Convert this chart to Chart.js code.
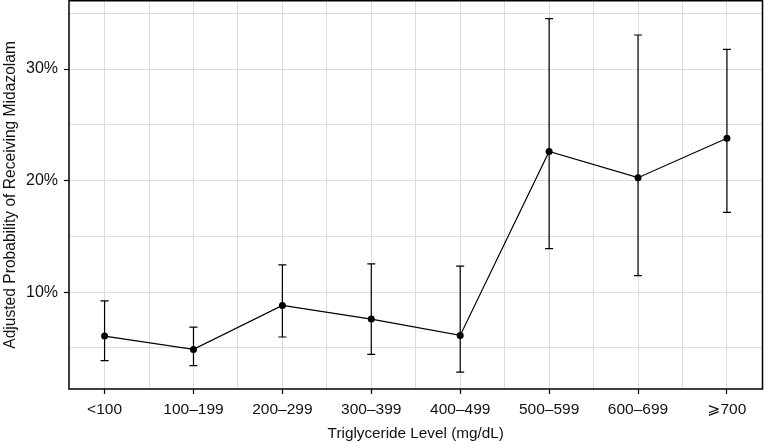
<!DOCTYPE html>
<html>
<head>
<meta charset="utf-8">
<script src="https://cdn.jsdelivr.net/npm/chart.js@4/dist/chart.umd.min.js"></script>
<style>
  html, body { margin: 0; padding: 0; background: #fff; overflow: hidden; }
  #wrap { width: 765px; height: 443px; position: relative; }
  canvas { display: block; }
</style>
</head>
<body>
<div id="wrap"><canvas id="c" width="765" height="443"></canvas></div>
<script>
const categories = ['<100', '100–199', '200–299', '300–399', '400–499', '500–599', '600–699', '⩾700'];
const probability = [0.0606, 0.0487, 0.0881, 0.0759, 0.0612, 0.2261, 0.2026, 0.2380];
const lowerCI = [0.0386, 0.0341, 0.0598, 0.0442, 0.0284, 0.1391, 0.1149, 0.1716];
const upperCI = [0.0922, 0.0687, 0.1244, 0.1253, 0.1233, 0.3451, 0.3305, 0.3176];
const yGridValues = [0.05, 0.10, 0.15, 0.20, 0.25, 0.30, 0.35];
const yLabelValues = [0.10, 0.20, 0.30];

const FONT = "'Liberation Sans', Arial, 'DejaVu Sans', sans-serif";

const errorBars = {
  id: 'errorBars',
  afterDatasetsDraw(chart) {
    const ctx = chart.ctx, xs = chart.scales.x, ys = chart.scales.y;
    ctx.save();
    ctx.strokeStyle = '#000';
    ctx.lineWidth = 1.2;
    categories.forEach((c, i) => {
      const x = xs.getPixelForValue(i + 1);
      const y1 = ys.getPixelForValue(lowerCI[i]);
      const y2 = ys.getPixelForValue(upperCI[i]);
      ctx.beginPath();
      ctx.moveTo(x, y1); ctx.lineTo(x, y2);
      ctx.moveTo(x - 4, y1); ctx.lineTo(x + 4, y1);
      ctx.moveTo(x - 4, y2); ctx.lineTo(x + 4, y2);
      ctx.stroke();
    });
    ctx.restore();
  }
};

const frame = {
  id: 'frame',
  afterDraw(chart) {
    const a = chart.chartArea, ctx = chart.ctx;
    ctx.save();
    ctx.strokeStyle = '#000';
    ctx.lineWidth = 1.5;
    ctx.strokeRect(a.left, a.top, a.right - a.left, a.bottom - a.top);
    ctx.restore();
  }
};

new Chart(document.getElementById('c'), {
  type: 'line',
  data: {
    datasets: [{
      data: probability.map((v, i) => ({ x: i + 1, y: v })),
      borderColor: '#000',
      borderWidth: 1.2,
      backgroundColor: '#000',
      pointRadius: 3.5,
      pointBorderWidth: 0,
      pointBackgroundColor: '#000',
      tension: 0,
      fill: false,
      clip: false
    }]
  },
  options: {
    responsive: false,
    animation: false,
    layout: { autoPadding: false, padding: { top: 0.75, right: 2.5, left: 0, bottom: 0 } },
    plugins: { legend: { display: false }, tooltip: { enabled: false } },
    scales: {
      x: {
        type: 'linear',
        min: 0.6,
        max: 8.4,
        afterBuildTicks(scale) {
          const t = [];
          for (let v = 1; v <= 8; v += 0.5) t.push({ value: v });
          scale.ticks = t;
        },
        afterFit(scale) { scale.height = 54; scale.paddingLeft = 0; scale.paddingRight = 0; },
        ticks: {
          autoSkip: false,
          maxRotation: 0,
          padding: 6,
          color: '#111',
          font: { family: FONT, size: 15.5 },
          callback(v) { return Number.isInteger(v) ? categories[v - 1] : ''; }
        },
        grid: {
          color: '#dcdcdc',
          lineWidth: 1,
          drawTicks: true,
          tickLength: 5,
          tickColor(ctx) { return ctx.tick && Number.isInteger(ctx.tick.value) ? '#000' : 'rgba(0,0,0,0)'; },
          tickWidth: 1.2
        },
        border: { display: false },
        title: {
          display: true,
          text: 'Triglyceride Level (mg/dL)',
          color: '#111',
          font: { family: FONT, size: 15.3 },
          padding: { top: 6, bottom: 0 }
        }
      },
      y: {
        type: 'linear',
        min: 0.0132,
        max: 0.3612,
        afterBuildTicks(scale) { scale.ticks = yGridValues.map(v => ({ value: v })); },
        afterFit(scale) { scale.width = 69; scale.paddingTop = 0; scale.paddingBottom = 0; },
        ticks: {
          padding: 6,
          color: '#111',
          font: { family: FONT, size: 16 },
          callback(v) {
            return yLabelValues.some(l => Math.abs(l - v) < 1e-9) ? Math.round(v * 100) + '%' : '';
          }
        },
        grid: {
          color: '#dcdcdc',
          lineWidth: 1,
          drawTicks: true,
          tickLength: 5,
          tickColor(ctx) { return ctx.tick && yLabelValues.some(l => Math.abs(l - ctx.tick.value) < 1e-9) ? '#000' : 'rgba(0,0,0,0)'; },
          tickWidth: 1.2
        },
        border: { display: false },
        title: {
          display: true,
          text: 'Adjusted Probability of Receiving Midazolam',
          color: '#111',
          font: { family: FONT, size: 15.6 },
          padding: { top: 1, bottom: 2 }
        }
      }
    }
  },
  plugins: [errorBars, frame]
});
</script>
</body>
</html>
